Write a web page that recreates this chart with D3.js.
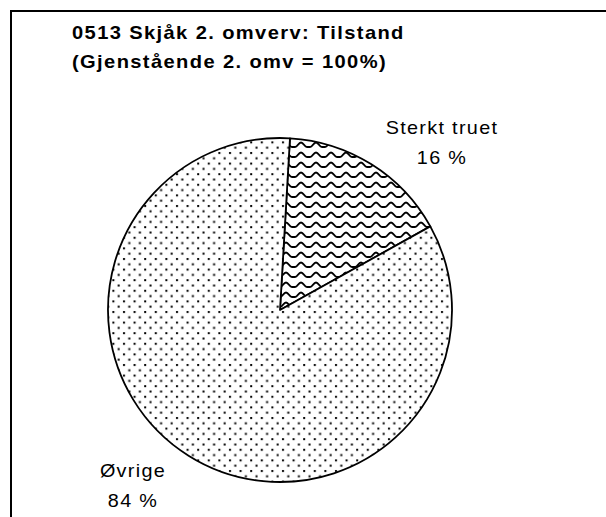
<!DOCTYPE html>
<html>
<head>
<meta charset="utf-8">
<script src="https://cdn.jsdelivr.net/npm/d3@7"></script>
<style>
  body { margin: 0; background: #fff; }
  text { font-family: Arial, "Liberation Sans", sans-serif; fill: #000; }
</style>
</head>
<body>
<div id="chart"></div>
<script>
// slice data, in drawing order (clockwise from 12 o'clock)
const categories = ["Sterkt truet", "Øvrige"];
const shares = [16, 84];
const percentLabels = ["16 %", "84 %"];
const titleLines = ["0513 Skjåk 2. omverv:  Tilstand", "(Gjenstående 2. omv = 100%)"];

const width = 606, height = 517;
const cx = 280, cy = 310, radius = 172;

const svg = d3.select("#chart").append("svg")
    .attr("width", width)
    .attr("height", height);

const defs = svg.append("defs");

// small dots pattern for "Øvrige"
const dots = defs.append("pattern")
    .attr("id", "dots")
    .attr("patternUnits", "userSpaceOnUse")
    .attr("width", 10.6)
    .attr("height", 10.6);
dots.append("rect").attr("width", 10.6).attr("height", 10.6).attr("fill", "#fff");
[[2, 1], [7.3, 6.3]].forEach(p => {
  dots.append("rect")
      .attr("x", p[0]).attr("y", p[1])
      .attr("width", 2).attr("height", 2)
      .attr("fill", "#000");
});

// wavy pattern for "Sterkt truet"
const waves = defs.append("pattern")
    .attr("id", "waves")
    .attr("patternUnits", "userSpaceOnUse")
    .attr("width", 15)
    .attr("height", 10);
waves.append("rect").attr("width", 15).attr("height", 10).attr("fill", "#fff");
waves.append("path")
    .attr("d", "M0,7 C2.5,7 3.5,2.5 6,2.5 C8.5,2.5 9.5,7 12,7 L15,7")
    .attr("fill", "none")
    .attr("stroke", "#000")
    .attr("stroke-width", 2);

const fills = ["url(#waves)", "url(#dots)"];

// outer frame (cut by the picture on the right and bottom)
svg.append("rect")
    .attr("x", 11)
    .attr("y", 11)
    .attr("width", 620)
    .attr("height", 540)
    .attr("fill", "none")
    .attr("stroke", "#000")
    .attr("stroke-width", 2);

const pie = d3.pie()
    .sort(null)
    .value(d => d)
    .startAngle(0.058)
    .endAngle(0.058 + 2 * Math.PI);

const arc = d3.arc()
    .innerRadius(0)
    .outerRadius(radius);

const arcs = pie(shares);

const g = svg.append("g")
    .attr("transform", `translate(${cx},${cy})`);

g.selectAll(".slice")
    .data(arcs)
  .join("path")
    .attr("class", "slice")
    .attr("d", arc)
    .attr("fill", (d, i) => fills[i])
    .attr("stroke", "#000")
    .attr("stroke-width", 1.8)
    .attr("stroke-linejoin", "round");

// labels placed outside the pie (text is a bit wider than plain Arial)
const labelPos = [
  {x: 442, y: 134},
  {x: 133, y: 477}
];
const labels = svg.selectAll(".lab")
    .data(arcs)
  .join("g")
    .attr("class", "lab")
    .attr("transform", (d, i) => `translate(${labelPos[i].x},${labelPos[i].y}) scale(1.1,1)`);
labels.append("text")
    .attr("text-anchor", "middle")
    .style("font-size", "18px")
    .style("letter-spacing", "1.2px")
    .text((d, i) => categories[i]);
labels.append("text")
    .attr("text-anchor", "middle")
    .attr("y", 30)
    .style("font-size", "18px")
    .style("letter-spacing", "1.2px")
    .text((d, i) => percentLabels[i]);

// title
svg.selectAll(".title")
    .data(titleLines)
  .join("text")
    .attr("class", "title")
    .attr("transform", (d, i) => `translate(72,${39 + i * 29}) scale(1.15,1)`)
    .style("font-size", "17.5px")
    .style("font-weight", "bold")
    .style("letter-spacing", "1.2px")
    .text(d => d);
</script>
</body>
</html>
